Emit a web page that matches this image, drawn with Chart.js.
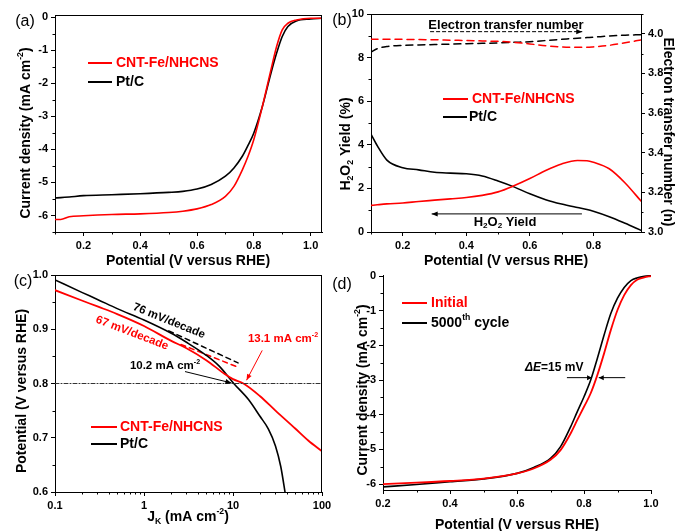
<!DOCTYPE html>
<html><head><meta charset="utf-8">
<script src="https://cdn.jsdelivr.net/npm/chart.js@4.4.0/dist/chart.umd.min.js"></script>
<style>
html,body{margin:0;padding:0;background:#fff;}
#wrap{position:relative;width:677px;height:531px;background:#fff;}
canvas{position:absolute;left:0;top:0;width:677px;height:531px;}
</style></head><body>
<div id="wrap">
<canvas id="ca" width="677" height="531"></canvas>
<canvas id="cb" width="677" height="531"></canvas>
<canvas id="cc" width="677" height="531"></canvas>
<canvas id="cd" width="677" height="531"></canvas>
</div>
<script>
// ---------------- DATA ----------------
// Panel (a): LSV curves
const aPotential = [0.10,0.12,0.15,0.20,0.30,0.40,0.50,0.55,0.60,0.65,0.70,0.73,0.76,0.78,0.80,0.83,0.86,0.88,0.90,0.92,0.95,1.00,1.04];
const aCntFe     = [-6.12,-6.12,-6.04,-6.01,-5.97,-5.95,-5.91,-5.87,-5.80,-5.67,-5.42,-5.12,-4.61,-4.20,-3.70,-2.70,-1.60,-0.89,-0.38,-0.18,-0.08,-0.03,-0.03];
const aPtC       = [-5.47,-5.46,-5.44,-5.40,-5.37,-5.34,-5.30,-5.27,-5.20,-5.06,-4.81,-4.56,-4.20,-3.87,-3.50,-2.70,-1.70,-1.09,-0.58,-0.28,-0.11,-0.05,-0.03];
const aXTicks = [0.2,0.4,0.6,0.8,1.0];
const aXLabels = ['0.2','0.4','0.6','0.8','1.0'];
const aXMinor = [0.1,0.3,0.5,0.7,0.9];
const aYTicks = [0,-1,-2,-3,-4,-5,-6];
const aYLabels = ['0','-1','-2','-3','-4','-5','-6'];
const aYMinor = [-0.5,-1.5,-2.5,-3.5,-4.5,-5.5,-6.5];

// Panel (b): H2O2 yield and electron transfer number
const bPotential = [0.10,0.12,0.15,0.20,0.25,0.30,0.35,0.40,0.45,0.50,0.55,0.60,0.65,0.70,0.75,0.78,0.80,0.85,0.90,0.95];
const bYieldCntFe = [1.22,1.25,1.29,1.33,1.40,1.46,1.52,1.58,1.68,1.84,2.12,2.45,2.82,3.12,3.28,3.27,3.20,2.90,2.25,1.42];
const bYieldPtC   = [4.49,3.95,3.30,2.95,2.85,2.74,2.70,2.67,2.57,2.34,2.07,1.75,1.48,1.28,1.12,1.03,0.95,0.70,0.40,0.08];
const bNCntFe = [3.972,3.972,3.972,3.972,3.971,3.970,3.968,3.966,3.964,3.962,3.957,3.949,3.940,3.934,3.932,3.932,3.934,3.942,3.955,3.969];
const bNPtC   = [3.908,3.925,3.936,3.942,3.944,3.946,3.948,3.950,3.952,3.954,3.957,3.960,3.966,3.972,3.978,3.981,3.983,3.989,3.993,3.996];
const bXTicks = [0.2,0.4,0.6,0.8];
const bXLabels = ['0.2','0.4','0.6','0.8'];
const bXMinor = [0.1,0.3,0.5,0.7,0.9];
const bYTicks = [0,2,4,6,8,10];
const bYLabels = ['0','2','4','6','8','10'];
const bYMinor = [1,3,5,7,9];
const bY2Ticks = [3.0,3.2,3.4,3.6,3.8,4.0];
const bY2Labels = ['3.0','3.2','3.4','3.6','3.8','4.0'];
const bY2Minor = [3.1,3.3,3.5,3.7,3.9,4.1];

// Panel (c): Tafel-type plot (log JK)
const cJCntFe = [0.1,0.2,0.3,0.5,1,2,3,5,8,10,13.1,20,30,50,70,100];
const cVCntFe = [0.972,0.953,0.942,0.928,0.906,0.879,0.865,0.843,0.818,0.808,0.800,0.777,0.750,0.717,0.695,0.675];
const cJPtC = [0.1,0.2,0.3,0.5,1,2,3,5,7,10.2,15,20,25,30,34.4,38.4,41];
const cVPtC = [0.991,0.968,0.955,0.938,0.917,0.893,0.876,0.852,0.832,0.800,0.770,0.740,0.716,0.685,0.647,0.600,0.570];
const cTangentPtCJ = [1.9,11.4];
const cTangentPtCV = [0.897,0.838];
const cTangentCntJ = [2.6,11.4];
const cTangentCntV = [0.872,0.830];
const cRefJ = [0.1,100];
const cRefV = [0.8,0.8];
const cXTicks = [0.1,1,10,100];
const cXLabels = ['0.1','1','10','100'];
const cXMinor = [0.2,0.3,0.4,0.5,0.6,0.7,0.8,0.9,2,3,4,5,6,7,8,9,20,30,40,50,60,70,80,90];
const cYTicks = [0.6,0.7,0.8,0.9,1.0];
const cYLabels = ['0.6','0.7','0.8','0.9','1.0'];
const cYMinor = [0.65,0.75,0.85,0.95];

// Panel (d): stability LSV
const dPotential = [0.20,0.30,0.40,0.50,0.60,0.65,0.70,0.73,0.76,0.78,0.80,0.82,0.84,0.86,0.88,0.90,0.92,0.94,0.96,0.98,1.00];
const dInitial = [-6.00,-5.96,-5.91,-5.84,-5.69,-5.55,-5.30,-5.02,-4.54,-4.15,-3.77,-3.38,-2.85,-2.23,-1.56,-0.98,-0.55,-0.26,-0.10,-0.04,0.00];
const dCycle   = [-6.08,-6.01,-5.93,-5.85,-5.69,-5.52,-5.26,-4.92,-4.35,-3.91,-3.48,-3.00,-2.37,-1.70,-1.08,-0.64,-0.33,-0.13,-0.05,-0.01,0.01];
const dXTicks = [0.2,0.4,0.6,0.8,1.0];
const dXLabels = ['0.2','0.4','0.6','0.8','1.0'];
const dXMinor = [0.3,0.5,0.7,0.9];
const dYTicks = [0,-1,-2,-3,-4,-5,-6];
const dYLabels = ['0','-1','-2','-3','-4','-5','-6'];
const dYMinor = [-0.5,-1.5,-2.5,-3.5,-4.5,-5.5];

// ---------------- HELPERS ----------------
const RED = '#ff0000', BLACK = '#000000';
const FAMILY = '"Liberation Sans", Arial, Helvetica, sans-serif';
const tickFont = {family: FAMILY, size: 11, weight: 'bold'};
const pts = (xs, ys) => xs.map((x, i) => ({x: x, y: ys[i]}));

function axis(o) {
  return {
    type: o.type || 'linear',
    position: o.position,
    min: o.min, max: o.max,
    afterBuildTicks: s => { s.ticks = o.ticks.map(v => ({value: v})); },
    afterFit: s => { if (o.w != null) s.width = o.w; if (o.h != null) s.height = o.h; },
    ticks: {callback: (v, i) => o.labels[i], font: tickFont, color: '#000', padding: 3,
            autoSkip: false, maxRotation: 0, minRotation: 0},
    grid: {display: true, drawOnChartArea: false, drawTicks: true, tickLength: 4, color: '#000', lineWidth: 1},
    border: {display: true, color: '#000', width: 1},
    title: {display: false}
  };
}

function drawRich(ctx, it) {
  const size = it.size || 14;
  const weight = it.bold === false ? 'normal' : 'bold';
  ctx.save();
  ctx.translate(it.x, it.y);
  if (it.rotate) ctx.rotate(it.rotate * Math.PI / 180);
  ctx.fillStyle = it.color || '#000';
  ctx.textBaseline = 'middle';
  ctx.textAlign = 'left';
  const segs = it.parts.map(p => {
    const mode = p[1] || '';
    const s = mode ? size * 0.62 : size;
    const font = (p[2] ? 'italic ' : '') + weight + ' ' + s.toFixed(1) + 'px ' + FAMILY;
    ctx.font = font;
    return {t: p[0], mode, font, w: ctx.measureText(p[0]).width};
  });
  const total = segs.reduce((a, s) => a + s.w, 0);
  let x = it.align === 'left' ? 0 : (it.align === 'right' ? -total : -total / 2);
  for (const s of segs) {
    ctx.font = s.font;
    const dy = s.mode === 'sup' ? -size * 0.36 : (s.mode === 'sub' ? size * 0.32 : 0);
    ctx.fillText(s.t, x, dy);
    x += s.w;
  }
  ctx.restore();
}

function arrowHead(ctx, x1, y1, x2, y2, len, half, color) {
  const a = Math.atan2(y2 - y1, x2 - x1);
  ctx.save();
  ctx.fillStyle = color;
  ctx.beginPath();
  ctx.moveTo(x2, y2);
  ctx.lineTo(x2 - len * Math.cos(a) + half * Math.sin(a), y2 - len * Math.sin(a) - half * Math.cos(a));
  ctx.lineTo(x2 - len * Math.cos(a) - half * Math.sin(a), y2 - len * Math.sin(a) + half * Math.cos(a));
  ctx.closePath();
  ctx.fill();
  ctx.restore();
}

function makeDeco(spec) {
  return {
    id: 'deco',
    afterDraw(chart) {
      const ctx = chart.ctx, ca = chart.chartArea;
      ctx.save();
      ctx.strokeStyle = '#000';
      ctx.lineWidth = 1;
      // frame
      if (spec.frameTop) { ctx.beginPath(); ctx.moveTo(ca.left, ca.top + 0.5); ctx.lineTo(ca.right, ca.top + 0.5); ctx.stroke(); }
      if (spec.frameRight) { ctx.beginPath(); ctx.moveTo(ca.right - 0.5, ca.top); ctx.lineTo(ca.right - 0.5, ca.bottom); ctx.stroke(); }
      // minor ticks
      const ML = 2.5;
      for (const id in (spec.minor || {})) {
        const sc = chart.scales[id];
        for (const v of spec.minor[id]) {
          const p = Math.round(sc.getPixelForValue(v)) + 0.5;
          ctx.beginPath();
          if (sc.isHorizontal()) {
            if (p < ca.left - 1 || p > ca.right + 1) continue;
            ctx.moveTo(p, ca.bottom); ctx.lineTo(p, ca.bottom + ML);
          } else {
            if (p < ca.top - 1 || p > ca.bottom + 1) continue;
            if (sc.position === 'right') { ctx.moveTo(ca.right, p); ctx.lineTo(ca.right + ML, p); }
            else { ctx.moveTo(ca.left, p); ctx.lineTo(ca.left - ML, p); }
          }
          ctx.stroke();
        }
      }
      // arrows (data coordinates)
      for (const ar of (spec.arrows || [])) {
        const xs = chart.scales[ar.xAxis || 'x'], ys = chart.scales[ar.yAxis || 'y'];
        const x1 = xs.getPixelForValue(ar.from[0]), y1 = ys.getPixelForValue(ar.from[1]);
        const x2 = xs.getPixelForValue(ar.to[0]), y2 = ys.getPixelForValue(ar.to[1]);
        ctx.save();
        ctx.strokeStyle = ar.color || '#000';
        ctx.lineWidth = ar.width || 1;
        if (ar.dash) ctx.setLineDash(ar.dash);
        ctx.beginPath(); ctx.moveTo(x1, y1); ctx.lineTo(x2, y2); ctx.stroke();
        ctx.restore();
        arrowHead(ctx, x1, y1, x2, y2, ar.hl || 6, ar.hw || 2.5, ar.color || '#000');
      }
      // legend
      for (const lg of (spec.legend || [])) {
        ctx.save();
        ctx.strokeStyle = lg.color; ctx.lineWidth = 2;
        ctx.beginPath(); ctx.moveTo(lg.x1, lg.y); ctx.lineTo(lg.x2, lg.y); ctx.stroke();
        ctx.restore();
        drawRich(ctx, {x: lg.tx, y: lg.y, parts: lg.parts, size: 14, color: lg.textColor, align: 'left'});
      }
      // texts
      for (const t of (spec.texts || [])) drawRich(ctx, t);
      ctx.restore();
    }
  };
}

function baseOptions(padding, scales) {
  return {
    responsive: false, animation: false, events: [],
    layout: {padding: padding},
    scales: scales,
    elements: {point: {radius: 0}, line: {cubicInterpolationMode: 'monotone', borderCapStyle: 'round'}},
    plugins: {legend: {display: false}, tooltip: {enabled: false}, title: {display: false}}
  };
}

// ---------------- PANEL (a) ----------------
new Chart(document.getElementById('ca'), {
  type: 'line',
  data: {datasets: [
    {data: pts(aPotential, aCntFe), borderColor: RED, borderWidth: 1.6},
    {data: pts(aPotential, aPtC), borderColor: BLACK, borderWidth: 1.6}
  ]},
  options: baseOptions({left: 15, top: 15, right: 355, bottom: 269}, {
    x: axis({min: 0.1, max: 1.04, ticks: aXTicks, labels: aXLabels, h: 30, position: 'bottom'}),
    y: axis({min: -6.5, max: 0.07, ticks: aYTicks, labels: aYLabels, w: 40, position: 'left'})
  }),
  plugins: [makeDeco({
    frameTop: true, frameRight: true,
    minor: {x: aXMinor, y: aYMinor},
    legend: [
      {x1: 88, x2: 112, y: 63, tx: 116, color: RED, textColor: RED, parts: [['CNT-Fe/NHCNS']]},
      {x1: 88, x2: 112, y: 82, tx: 116, color: BLACK, textColor: BLACK, parts: [['Pt/C']]}
    ],
    texts: [
      {x: 25, y: 22, parts: [['(a)']], size: 16, bold: false},
      {x: 188, y: 261, parts: [['Potential (V versus RHE)']], size: 14},
      {x: 26, y: 133, rotate: -90, parts: [['Current density (mA cm'], ['-2', 'sup'], [')']], size: 14}
    ]
  })]
});

// ---------------- PANEL (b) ----------------
new Chart(document.getElementById('cb'), {
  type: 'line',
  data: {datasets: [
    {data: pts(bPotential, bYieldCntFe), borderColor: RED, borderWidth: 1.6, yAxisID: 'y'},
    {data: pts(bPotential, bYieldPtC), borderColor: BLACK, borderWidth: 1.6, yAxisID: 'y'},
    {data: pts(bPotential, bNCntFe), borderColor: RED, borderWidth: 1.5, borderDash: [7, 5], yAxisID: 'y2'},
    {data: pts(bPotential, bNPtC), borderColor: BLACK, borderWidth: 1.5, borderDash: [7, 5], yAxisID: 'y2'}
  ]},
  options: baseOptions({left: 341, top: 14, right: 6, bottom: 269}, {
    x: axis({min: 0.1, max: 0.95, ticks: bXTicks, labels: bXLabels, h: 30, position: 'bottom'}),
    y: axis({min: 0, max: 10, ticks: bYTicks, labels: bYLabels, w: 30, position: 'left'}),
    y2: axis({min: 3.0, max: 4.1, ticks: bY2Ticks, labels: bY2Labels, w: 30, position: 'right'})
  }),
  plugins: [makeDeco({
    frameTop: true,
    minor: {x: bXMinor, y: bYMinor, y2: bY2Minor},
    arrows: [
      {from: [0.286, 9.19], to: [0.765, 9.19], dash: [4, 2], width: 1},
      {from: [0.764, 0.83], to: [0.291, 0.83], width: 1}
    ],
    legend: [
      {x1: 443, x2: 468, y: 99, tx: 472, color: RED, textColor: RED, parts: [['CNT-Fe/NHCNS']]},
      {x1: 443, x2: 467, y: 117, tx: 469, color: BLACK, textColor: BLACK, parts: [['Pt/C']]}
    ],
    texts: [
      {x: 342, y: 21, parts: [['(b)']], size: 16, bold: false},
      {x: 506, y: 25, parts: [['Electron transfer number']], size: 13},
      {x: 505, y: 222, parts: [['H'], ['2', 'sub'], ['O'], ['2', 'sub'], [' Yield']], size: 13},
      {x: 506, y: 261, parts: [['Potential (V versus RHE)']], size: 14},
      {x: 346, y: 144, rotate: -90, parts: [['H'], ['2', 'sub'], ['O'], ['2', 'sub'], [' Yield (%)']], size: 14},
      {x: 668, y: 132, rotate: 90, parts: [['Electron transfer number (n)']], size: 14}
    ]
  })]
});

// ---------------- PANEL (c) ----------------
new Chart(document.getElementById('cc'), {
  type: 'line',
  data: {datasets: [
    {data: pts(cRefJ, cRefV), borderColor: '#333333', borderWidth: 1, borderDash: [4, 2, 1, 2], cubicInterpolationMode: 'default', tension: 0},
    {data: pts(cJCntFe, cVCntFe), borderColor: RED, borderWidth: 1.8},
    {data: pts(cJPtC, cVPtC), borderColor: BLACK, borderWidth: 1.6},
    {data: pts(cTangentPtCJ, cTangentPtCV), borderColor: BLACK, borderWidth: 1.5, borderDash: [5, 4], tension: 0},
    {data: pts(cTangentCntJ, cTangentCntV), borderColor: RED, borderWidth: 1.5, borderDash: [5, 4], tension: 0}
  ]},
  options: baseOptions({left: 15, top: 275, right: 355, bottom: 9}, {
    x: axis({type: 'logarithmic', min: 0.1, max: 100, ticks: cXTicks, labels: cXLabels, h: 30, position: 'bottom'}),
    y: axis({min: 0.6, max: 1.0, ticks: cYTicks, labels: cYLabels, w: 40, position: 'left'})
  }),
  plugins: [makeDeco({
    frameTop: true, frameRight: true,
    minor: {x: cXMinor, y: cYMinor},
    arrows: [
      {from: [21.3, 0.861], to: [14.2, 0.806], color: RED, width: 1},
      {from: [2.89, 0.822], to: [9.6, 0.801], width: 1}
    ],
    legend: [
      {x1: 91, x2: 117, y: 427, tx: 120, color: RED, textColor: RED, parts: [['CNT-Fe/NHCNS']]},
      {x1: 91, x2: 117, y: 444, tx: 120, color: BLACK, textColor: BLACK, parts: [['Pt/C']]}
    ],
    texts: [
      {x: 23, y: 282, parts: [['(c)']], size: 16, bold: false},
      {x: 169, y: 321, rotate: 22, parts: [['76 mV/decade']], size: 11.5},
      {x: 132, y: 333, rotate: 21, parts: [['67 mV/decade']], size: 11.5, color: RED},
      {x: 283, y: 339, parts: [['13.1 mA cm'], ['-2', 'sup']], size: 11.5, color: RED},
      {x: 165, y: 366, parts: [['10.2 mA cm'], ['-2', 'sup']], size: 11.5},
      {x: 188, y: 517, parts: [['J'], ['K', 'sub'], [' (mA cm'], ['-2', 'sup'], [')']], size: 14},
      {x: 22, y: 391, rotate: -90, parts: [['Potential (V versus RHE)']], size: 14}
    ]
  })]
});

// ---------------- PANEL (d) ----------------
new Chart(document.getElementById('cd'), {
  type: 'line',
  data: {datasets: [
    {data: pts(dPotential, dInitial), borderColor: RED, borderWidth: 1.8},
    {data: pts(dPotential, dCycle), borderColor: BLACK, borderWidth: 1.6}
  ]},
  options: baseOptions({left: 343, top: 275, right: 26, bottom: 11}, {
    x: axis({min: 0.2, max: 1.0, ticks: dXTicks, labels: dXLabels, h: 30, position: 'bottom'}),
    y: axis({min: -6.17, max: 0.03, ticks: dYTicks, labels: dYLabels, w: 40, position: 'left'})
  }),
  plugins: [makeDeco({
    minor: {x: dXMinor, y: dYMinor},
    arrows: [
      {from: [0.749, -2.93], to: [0.824, -2.93], width: 1, hl: 5},
      {from: [0.923, -2.93], to: [0.844, -2.93], width: 1, hl: 5}
    ],
    legend: [
      {x1: 402, x2: 427, y: 303, tx: 431, color: RED, textColor: RED, parts: [['Initial']]},
      {x1: 402, x2: 427, y: 323, tx: 431, color: BLACK, textColor: BLACK, parts: [['5000'], ['th', 'sup'], [' cycle']]}
    ],
    texts: [
      {x: 342, y: 285, parts: [['(d)']], size: 16, bold: false},
      {x: 525, y: 368, align: 'left', parts: [['\u0394E', '', true], ['=15 mV']], size: 12},
      {x: 517, y: 525, parts: [['Potential (V versus RHE)']], size: 14},
      {x: 363, y: 390, rotate: -90, parts: [['Current density (mA cm'], ['-2', 'sup'], [')']], size: 14}
    ]
  })]
});
</script>
</body></html>
